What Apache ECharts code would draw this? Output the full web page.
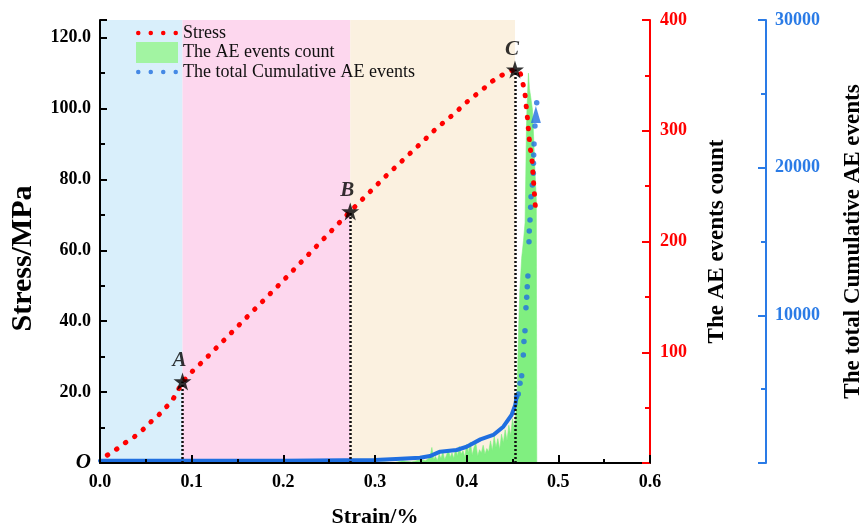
<!DOCTYPE html>
<html><head><meta charset="utf-8">
<script src="https://cdn.jsdelivr.net/npm/echarts@6/dist/echarts.min.js"></script>
<style>html,body{margin:0;padding:0;background:#fff}#c{width:867px;height:530px}</style>
</head><body><div id="c"></div>
<script>
// ---------------- data ----------------
const stressStrain = [0.008,0.018,0.028,0.037,0.046,0.054,0.0625,0.070,0.078,0.084,0.090,0.0953,0.103,0.1116,0.15,0.20,0.273,0.31,0.3545,0.3636,0.372,0.381,0.390,0.399,0.408,0.4175,0.426,0.436,0.4465,0.4527,0.458,0.4611,0.4636,0.4647,0.466,0.467,0.468,0.469,0.471,0.472,0.4727,0.4735,0.4745,0.4752];
const stressValue  = [2.2,3.9,5.8,7.3,9.2,11.3,13.1,15.2,17.3,19.9,23.0,24.3,26.5,28.5,38.5,51.5,71.0,80.5,91.3,93.6,95.5,97.4,99.4,101.6,103.5,105.4,107.4,109.1,110.5,111.0,110.5,107.4,104.3,101.3,98.3,95.2,92.4,89.3,86.3,83.0,80.4,77.4,74.1,71.1];

const aeStrain = [0.300,0.310,0.320,0.330,0.340,0.350,0.355,0.360,0.362,0.364,0.366,0.368,0.370,0.372,0.374,0.376,0.378,0.380,0.382,0.384,0.386,0.388,0.390,0.392,0.394,0.396,0.398,0.400,0.402,0.404,0.406,0.408,0.410,0.412,0.414,0.416,0.418,0.420,0.422,0.424,0.426,0.428,0.430,0.432,0.434,0.436,0.438,0.440,0.442,0.444,0.446,0.448,0.450,0.452,0.454,0.455,0.456,0.457,0.458,0.460,0.462,0.4637,0.4645,0.4652,0.466,0.4674,0.4685,0.4696,0.4718,0.473,0.474,0.475,0.476,0.4765];
const aeCount  = [0,1,0,2,1,3,2,5,14,3,6,2,8,4,10,3,7,12,5,9,4,13,6,15,8,11,5,17,9,19,7,14,18,6,12,9,16,8,13,10,20,11,24,14,22,12,26,18,30,20,34,25,40,30,48,60,100,130,156,185,201,217,260,303,325,352,338,332,319,295,273,255,237,0];

const cumStrain = [0,0.1,0.2,0.3,0.323,0.349,0.360,0.371,0.389,0.400,0.415,0.429,0.440,0.449,0.453,0.4545,0.4563,0.4582,0.46,0.4618,0.4625,0.4636,0.4647,0.4655,0.4661,0.4668,0.468,0.4683,0.4691,0.4698,0.4702,0.4716,0.4727,0.4729,0.4731,0.4735,0.4745,0.4764];
const cumCount  = [150,150,160,200,270,360,470,765,880,1100,1600,1900,2460,3250,3930,4490,4670,5400,5910,7310,8230,8960,10520,11220,11940,12660,14990,15710,16460,17320,18030,18830,19620,20300,20860,21600,22820,24400];
const cumDenseEnd = 0.4545;      // above this strain the record is drawn as separate dots
const cumEndMarker = [0.4755, 23600];

const pointName   = ['A','B','C'];
const pointStrain = [0.090,0.273,0.4527];
const pointStress = [23.0,71.0,111.0];

const stageStart = [0,0.090,0.273];
const stageEnd   = [0.090,0.273,0.4527];
const stageColor = ['#d9effb','#fdd7ee','#fbf1e0'];

// ---------------- chart ----------------
const F = '"Liberation Serif","Times New Roman",serif';
const zip = (a,b) => a.slice(0,Math.min(a.length,b.length)).map((v,i)=>[v,b[i]]);
const stressData = zip(stressStrain, stressValue);
const aeData = zip(aeStrain, aeCount);
const cumAll = zip(cumStrain, cumCount);
const cumDense = cumAll.filter(p => p[0] <= cumDenseEnd);
const cumSparse = cumAll.filter(p => p[0] >= cumDenseEnd);
const stageData = stageStart.map((s,i)=>[s, stageEnd[i]]);
const starData = pointStrain.map((x,i)=>({name: pointName[i], value:[x, pointStress[i]]}));

const dots = 'path://M0,2A2,2,0,1,1,4,2A2,2,0,1,1,0,2Z M11,2A2,2,0,1,1,15,2A2,2,0,1,1,11,2Z M22,2A2,2,0,1,1,26,2A2,2,0,1,1,22,2Z M33,2A2,2,0,1,1,37,2A2,2,0,1,1,33,2Z';
const star = 'path://M50,0 L61.8,35.5 L99,35.5 L69,57.5 L80.5,93 L50,71 L19.5,93 L31,57.5 L1,35.5 L38.2,35.5 Z';
const RED = '#ff0000', BLUE = '#1f6fe0', BLUEAX = '#2a7be6', GREEN = '#80ef80';

const chart = echarts.init(document.getElementById('c'));
chart.setOption({
  animation: false,
  grid: {left: 100, right: 217, top: 20, bottom: 67, containLabel: false, outerBoundsMode: 'none'},
  legend: {
    left: 136, top: 24, orient: 'vertical', padding: 0, itemGap: 0,
    itemWidth: 42, itemHeight: 21, symbolKeepAspect: true,
    itemStyle: {borderWidth: 0},
    textStyle: {fontFamily: F, fontSize: 18, color: '#111'},
    data: [
      {name: 'Stress', icon: dots, itemStyle: {color: RED}},
      {name: 'The AE events count', icon: 'rect', itemStyle: {color: '#a2f4a2'}},
      {name: 'The total Cumulative AE events', icon: dots, itemStyle: {color: BLUE}}
    ]
  },
  xAxis: {
    type: 'value', min: 0, max: 0.6, interval: 0.1, z: 10,
    axisLine: {onZero: false, lineStyle: {color: '#000', width: 2}},
    axisTick: {inside: true, length: 8, lineStyle: {color: '#000', width: 2}},
    minorTick: {show: true, splitNumber: 2, length: 4, lineStyle: {color: '#000', width: 2}},
    splitLine: {show: false},
    axisLabel: {formatter: v => v.toFixed(1), fontFamily: F, fontWeight: 'bold', fontSize: 18, color: '#000', margin: 10},
    name: 'Strain/%', nameLocation: 'middle', nameGap: 43,
    nameTextStyle: {fontFamily: F, fontWeight: 'bold', fontSize: 22, color: '#000'}
  },
  yAxis: [
    {
      type: 'value', min: 0, max: 125, interval: 20, position: 'left', z: 10,
      axisLine: {show: true, onZero: false, lineStyle: {color: '#000', width: 2}},
      axisTick: {inside: true, length: 7, lineStyle: {color: '#000', width: 2}},
      minorTick: {show: true, splitNumber: 2, length: 5, lineStyle: {color: '#000', width: 2}},
      splitLine: {show: false},
      axisLabel: {
        showMaxLabel: false, margin: 9,
        formatter: v => v === 0 ? '{o|O}' : (v > 120 ? '' : v.toFixed(1)),
        fontFamily: F, fontWeight: 'bold', fontSize: 18, color: '#000',
        rich: {o: {fontFamily: F, fontStyle: 'italic', fontWeight: 'bold', fontSize: 21, color: '#000'}}
      },
      name: 'Stress/MPa', nameLocation: 'middle', nameGap: 62, nameRotate: 90,
      nameTextStyle: {fontFamily: F, fontWeight: 'bold', fontSize: 30, color: '#000', padding: [0, 34, 0, 0]}
    },
    {
      type: 'value', min: 0, max: 400, interval: 100, position: 'right', z: 10,
      axisLine: {show: true, onZero: false, lineStyle: {color: RED, width: 2}},
      axisTick: {inside: true, length: 8, lineStyle: {color: RED, width: 2}},
      minorTick: {show: true, splitNumber: 2, length: 5, lineStyle: {color: RED, width: 2}},
      splitLine: {show: false},
      axisLabel: {formatter: v => v === 0 ? '' : String(v), fontFamily: F, fontWeight: 'bold', fontSize: 18, color: RED, margin: 10},
      name: 'The AE events count', nameLocation: 'middle', nameGap: 56, nameRotate: 90,
      nameTextStyle: {fontFamily: F, fontWeight: 'bold', fontSize: 23, color: '#000'}
    },
    {
      type: 'value', min: 0, max: 30000, interval: 10000, position: 'right', offset: 116, z: 10,
      axisLine: {show: true, onZero: false, lineStyle: {color: BLUEAX, width: 2}},
      axisTick: {inside: true, length: 8, lineStyle: {color: BLUEAX, width: 2}},
      minorTick: {show: true, splitNumber: 2, length: 5, lineStyle: {color: BLUEAX, width: 2}},
      splitLine: {show: false},
      axisLabel: {formatter: v => v === 0 ? '' : String(v), fontFamily: F, fontWeight: 'bold', fontSize: 18, color: BLUEAX, margin: 9},
      name: 'The total Cumulative AE events', nameLocation: 'middle', nameGap: 76, nameRotate: 90,
      nameTextStyle: {fontFamily: F, fontWeight: 'bold', fontSize: 23, color: '#000'}
    }
  ],
  series: [
    {
      name: 'stages', type: 'custom', z: 1, silent: true, yAxisIndex: 0,
      data: stageData, encode: {x: [0, 1]},
      renderItem: (params, api) => {
        const a = api.coord([api.value(0), 0]);
        const b = api.coord([api.value(1), 0]);
        const cs = params.coordSys;
        return {type: 'rect', shape: {x: a[0], y: cs.y, width: b[0] - a[0], height: cs.height},
                style: {fill: stageColor[params.dataIndex]}};
      }
    },
    {
      name: 'The AE events count', type: 'line', yAxisIndex: 1, z: 2,
      data: aeData, symbol: 'none', color: '#a2f4a2',
      lineStyle: {width: 0.6, color: GREEN}, areaStyle: {color: GREEN, opacity: 1}
    },
    {
      name: 'cumDense', type: 'line', yAxisIndex: 2, z: 3,
      data: cumDense, symbol: 'none', lineStyle: {width: 4, color: BLUE, cap: 'round', join: 'round'}
    },
    {
      name: 'The total Cumulative AE events', type: 'scatter', yAxisIndex: 2, z: 4,
      data: cumSparse, symbol: 'circle', symbolSize: 5.5, itemStyle: {color: BLUE}
    },
    {
      name: 'cumEnd', type: 'scatter', yAxisIndex: 2, z: 4,
      data: [cumEndMarker], symbol: 'triangle', symbolSize: [10, 17], itemStyle: {color: BLUE}
    },
    {
      name: 'Stress', type: 'line', yAxisIndex: 0, z: 5,
      data: stressData, symbol: 'none', color: RED,
      lineStyle: {color: RED, width: 5, type: [0.5, 10.5], cap: 'round'}
    },
    {
      name: 'points', type: 'scatter', yAxisIndex: 0, z: 6,
      data: starData, symbol: star, symbolSize: 18, itemStyle: {color: '#000'},
      label: {show: true, position: 'top', distance: 1, offset: [-3, 0], formatter: p => p.name,
               fontFamily: F, fontStyle: 'italic', fontWeight: 'bold', fontSize: 21, color: '#000'},
      markLine: {
        silent: true, symbol: ['none', 'none'], label: {show: false},
        lineStyle: {color: '#111', width: 2.5, type: [2, 2]},
        data: pointStrain.map((x, i) => [{coord: [x, 0]}, {coord: [x, pointStress[i]]}])
      }
    }
  ]
});
</script></body></html>
